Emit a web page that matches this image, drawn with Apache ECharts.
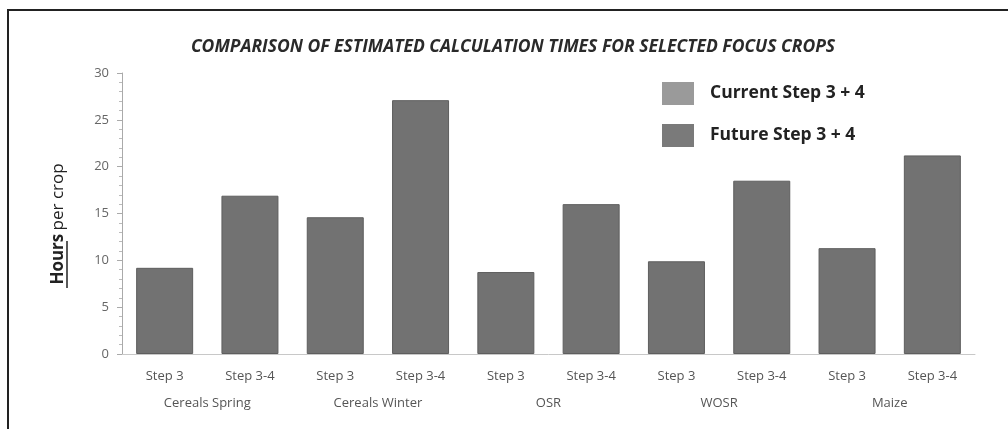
<!DOCTYPE html>
<html>
<head>
<meta charset="utf-8">
<script src="https://cdn.jsdelivr.net/npm/echarts@6/dist/echarts.min.js"></script>
<style>
html,body{margin:0;padding:0;background:#fff;}
#main{width:1008px;height:429px;}
</style>
</head>
<body>
<div id="main"></div>
<script>
const groups = ['Cereals Spring', 'Cereals Winter', 'OSR', 'WOSR', 'Maize'];
const stepLabels = ['Step 3', 'Step 3-4'];
const currentValues = [9.2, 14.6, 8.75, 9.9, 11.3];   // Step 3
const futureValues = [16.9, 27.1, 16.0, 18.5, 21.2];  // Step 3-4
const yTicks = [0, 5, 10, 15, 20, 25, 30];
const seriesNames = ['Current Step 3 + 4', 'Future Step 3 + 4'];

const cats = [];
const curData = [];
const futData = [];
groups.forEach((g, i) => {
  cats.push(stepLabels[0]); cats.push(stepLabels[1]);
  curData.push(currentValues[i]); curData.push(null);
  futData.push(null); futData.push(futureValues[i]);
});

const barColor = '#727272';
const font = '"Open Sans", "DejaVu Sans", sans-serif';

const chart = echarts.init(document.getElementById('main'), null, {renderer: 'canvas'});
chart.setOption({
  backgroundColor: '#fff',
  animation: false,
  title: {
    text: 'COMPARISON OF ESTIMATED CALCULATION TIMES FOR SELECTED FOCUS CROPS',
    left: 508, top: 33, textAlign: 'center',
    textStyle: {fontFamily: font, fontSize: 17.5, fontWeight: 'bold', fontStyle: 'italic', color: '#2a2a2a'}
  },
  legend: {
    orient: 'vertical', left: 657, top: 77,
    itemWidth: 32, itemHeight: 23, itemGap: 19,
    icon: 'rect',
    itemStyle: {borderWidth: 0},
    textStyle: {fontFamily: font, fontSize: 17.5, fontWeight: 'bold', color: '#222', padding: [0, 0, 0, 11]},
    data: [
      {name: seriesNames[0], itemStyle: {color: '#9a9a9a', borderWidth: 0}},
      {name: seriesNames[1], itemStyle: {color: '#7a7a7a', borderWidth: 0}}
    ]
  },
  grid: {left: 122, right: 33, top: 73, bottom: 75},
  xAxis: [{
    type: 'category', data: cats, position: 'bottom',
    axisLine: {lineStyle: {color: '#c8c8c8', width: 1}},
    axisTick: {show: false},
    axisLabel: {color: '#555', fontFamily: font, fontSize: 13, margin: 16}
  }, {
    type: 'category', data: groups, position: 'bottom', offset: 27,
    axisLine: {show: false}, axisTick: {show: false},
    axisLabel: {color: '#555', fontFamily: font, fontSize: 13, margin: 16}
  }],
  yAxis: {
    type: 'value', min: 0, max: 30, interval: 5,
    axisLine: {show: true, lineStyle: {color: '#aaa'}},
    axisTick: {show: true, length: 5, lineStyle: {color: '#aaa'}},
    minorTick: {show: true, splitNumber: 5, length: 3, lineStyle: {color: '#bbb'}},
    splitLine: {show: false},
    axisLabel: {color: '#666', fontFamily: font, fontSize: 13, margin: 13,
      formatter: v => yTicks.includes(v) ? String(v) : ''}
  },
  series: [{
    name: seriesNames[0], type: 'bar', stack: 's', barWidth: 57,
    itemStyle: {color: barColor, borderColor: '#5e5e5e', borderWidth: 1},
    data: curData
  }, {
    name: seriesNames[1], type: 'bar', stack: 's', barWidth: 57,
    itemStyle: {color: barColor, borderColor: '#5e5e5e', borderWidth: 1},
    data: futData
  }],
  graphic: [{
    type: 'rect', shape: {x: 8, y: 10, width: 1100, height: 500},
    style: {fill: null, stroke: '#222', lineWidth: 2}, silent: true, z: 100
  }, {
    type: 'text', x: 58, y: 224, rotation: Math.PI / 2,
    style: {
      text: '{b|Hours} {n|per crop}',
      align: 'center', verticalAlign: 'middle',
      rich: {
        b: {fontFamily: font, fontSize: 17, fontWeight: 'bold', fill: '#222'},
        n: {fontFamily: font, fontSize: 17, fill: '#222'}
      }
    },
    silent: true, z: 100
  }, {
    type: 'line', shape: {x1: 67, y1: 241, x2: 67, y2: 288},
    style: {stroke: '#222', lineWidth: 1.5}, silent: true, z: 100
  }]
});
</script>
</body>
</html>
